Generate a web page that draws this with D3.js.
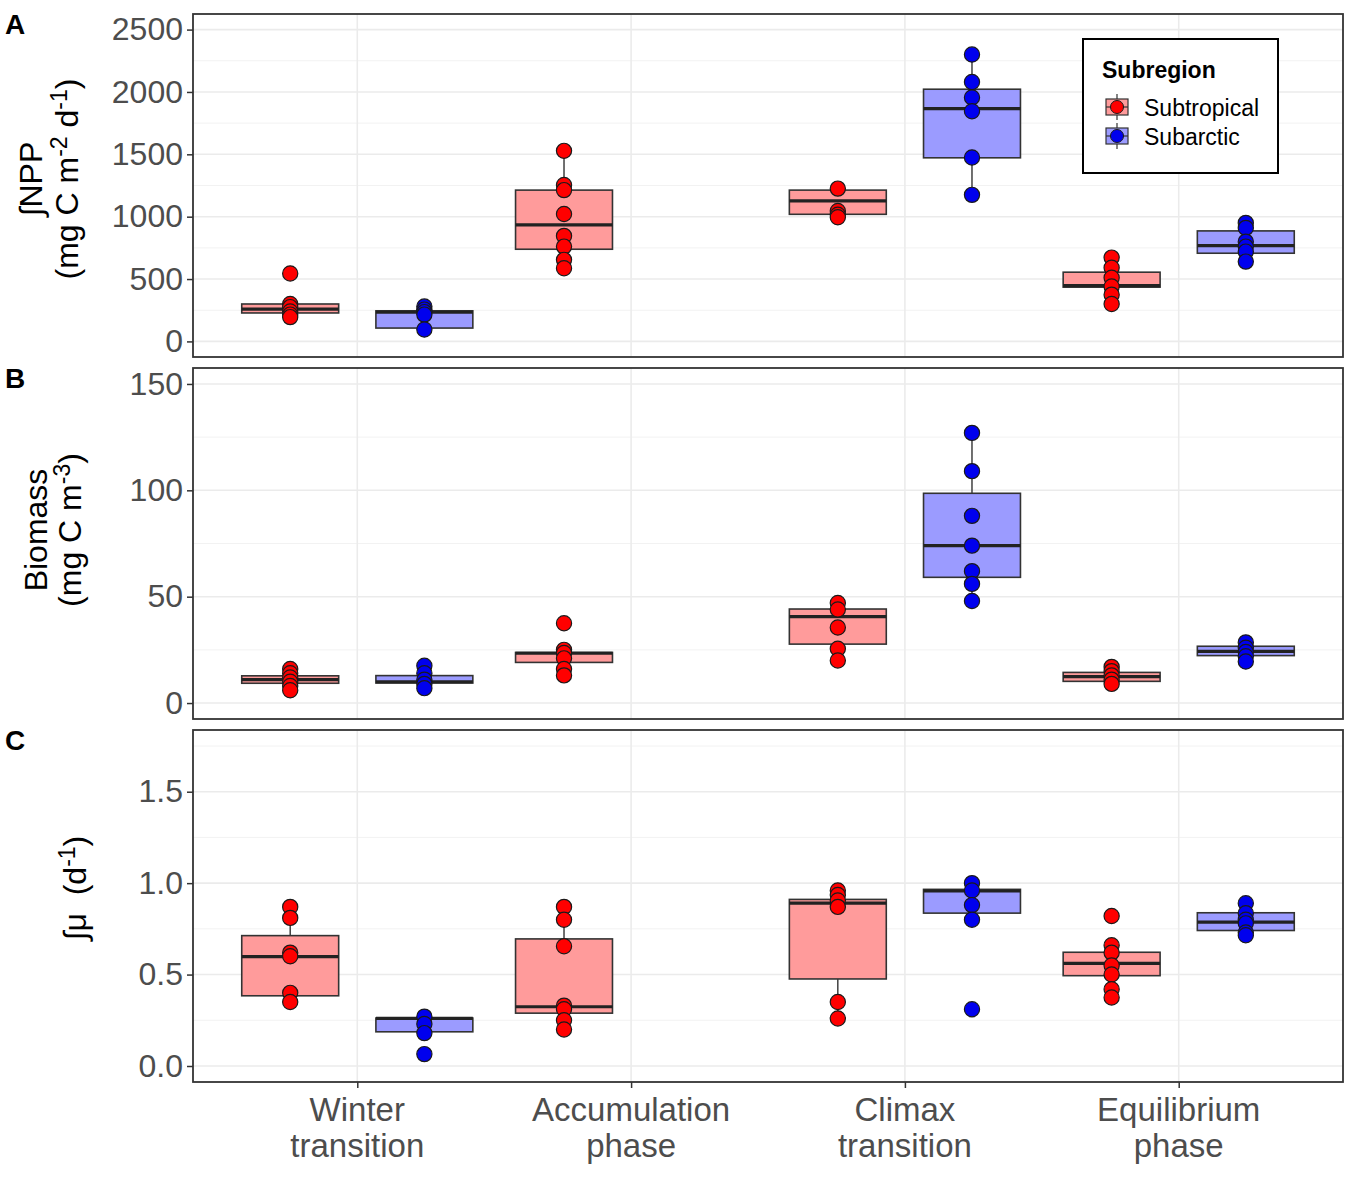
<!DOCTYPE html>
<html>
<head>
<meta charset="utf-8">
<script src="https://cdn.jsdelivr.net/npm/d3@7"></script>
<style>
body { margin: 0; background: #fff; }
text { font-family: Arial, "Liberation Sans", sans-serif; }
</style>
</head>
<body>
<svg id="chart"></svg>
<script>
// categories
const phases = ["Winter transition", "Accumulation phase", "Climax transition", "Equilibrium phase"];
const phaseLines = [["Winter", "transition"], ["Accumulation", "phase"], ["Climax", "transition"], ["Equilibrium", "phase"]];
const subregions = ["Subtropical", "Subarctic"];

// A: integrated NPP, points per phase
const nppSubtropical = [[545, 300, 275, 240, 215, 195], [1528, 1254, 1213, 1022, 846, 760, 654, 587], [1225, 1045, 1015, 995], [672, 590, 510, 440, 375, 300]];
const nppSubarctic = [[280, 255, 235, 215, 95], [], [2300, 2080, 1955, 1845, 1475, 1175], [950, 910, 800, 760, 720, 640]];
// box stats: [lower whisker, q1, median, q3, upper whisker]
const nppBoxSubtropical = [[195, 228, 259, 300, 300], [587, 739, 934, 1213, 1528], [995, 1019, 1126, 1213, 1225], [300, 435, 448, 555, 672]];
const nppBoxSubarctic = [[95, 107, 235, 245, 280], null, [1175, 1472, 1867, 2022, 2300], [640, 707, 768, 886, 950]];

// B: biomass
const bioSubtropical = [[16, 14, 12, 10, 8, 6], [37.5, 25, 23.5, 21, 16, 13], [47, 44, 35.5, 25.5, 20], [17, 15, 13, 11, 9]];
const bioSubarctic = [[17.5, 14, 11, 9, 7], [], [127, 109, 88, 74, 62, 56, 48], [28.5, 26, 24, 22, 19.5]];
const bioBoxSubtropical = [[6, 9.3, 11, 12.8, 16], [13, 19.1, 23.4, 23.8, 25], [20, 27.7, 40.6, 44.2, 47], [9, 10.2, 12.4, 14.4, 17]];
const bioBoxSubarctic = [[7, 9.4, 10, 12.9, 17.5], null, [48, 59.1, 74, 98.6, 127], [19.5, 22.3, 24.3, 26.7, 28.5]];

// C: integrated growth rate
const muSubtropical = [[0.87, 0.81, 0.62, 0.6, 0.4, 0.35], [0.87, 0.8, 0.655, 0.33, 0.31, 0.25, 0.2], [0.96, 0.935, 0.905, 0.87, 0.35, 0.26], [0.82, 0.66, 0.62, 0.55, 0.5, 0.42, 0.375]];
const muSubarctic = [[0.27, 0.23, 0.18, 0.065], [], [1.0, 0.96, 0.88, 0.8, 0.31], [0.89, 0.835, 0.8, 0.78, 0.73, 0.715]];
const muBoxSubtropical = [[0.35, 0.384, 0.598, 0.713, 0.87], [0.2, 0.289, 0.324, 0.695, 0.87], [0.26, 0.476, 0.891, 0.911, 0.96], [0.375, 0.494, 0.561, 0.622, 0.66]];
const muBoxSubarctic = [[0.18, 0.187, 0.26, 0.262, 0.27], null, [0.8, 0.836, 0.957, 0.966, 1.0], [0.715, 0.741, 0.787, 0.838, 0.89]];

// axis ticks
const nppTicks = [0, 500, 1000, 1500, 2000, 2500];
const nppMinor = [250, 750, 1250, 1750, 2250];
const bioTicks = [0, 50, 100, 150];
const bioMinor = [25, 75, 125];
const muTicks = [0, 0.5, 1.0, 1.5];
const muMinor = [0.25, 0.75, 1.25, 1.75];

const width = 1350, height = 1185;
const left = 193, right = 1343;
const pointFill = {Subtropical: "#ff0000", Subarctic: "#0000ee"};
const boxFill = {Subtropical: "#ff9b9b", Subarctic: "#9b9bff"};

let svg = d3.select("#chart").attr("width", width).attr("height", height);

let x = d3.scalePoint().domain(phases).range([left, right]).padding(0.6);
const step = x.step();
const dodge = 0.245 * step;
const halfBox = 0.177 * step;

function xOf(phase, region) {
    return x(phase) + (region === "Subtropical" ? -dodge : dodge);
}

const panels = [
    {letter: "A", top: 14, bottom: 357, lim: [0, 2500], ticks: nppTicks, minor: nppMinor, fmt: d3.format("d"),
     pts: [nppSubtropical, nppSubarctic], boxes: [nppBoxSubtropical, nppBoxSubarctic], title: "npp"},
    {letter: "B", top: 368, bottom: 719, lim: [0, 150], ticks: bioTicks, minor: bioMinor, fmt: d3.format("d"),
     pts: [bioSubtropical, bioSubarctic], boxes: [bioBoxSubtropical, bioBoxSubarctic], title: "bio"},
    {letter: "C", top: 730, bottom: 1082, lim: [0, 1.75], ticks: muTicks, minor: muMinor, fmt: d3.format(".1f"),
     pts: [muSubtropical, muSubarctic], boxes: [muBoxSubtropical, muBoxSubarctic], title: "mu"}
];

function superText(g, parts, attrs) {
    // parts: [text, isSuper]
    let t = g.append("text");
    for (let k in attrs) t.attr(k, attrs[k]);
    parts.forEach(([s, sup], i) => {
        let prevSup = i > 0 && parts[i - 1][1];
        let ts = t.append("tspan").text(s);
        if (sup) ts.attr("dy", -11).attr("font-size", "0.72em");
        else if (prevSup) ts.attr("dy", 11);
    });
    return t;
}

function drawTitle(p, cy) {
    let g = svg.append("g");
    const common = {"text-anchor": "middle", "font-size": 32, fill: "#000"};
    if (p.title === "npp") {
        superText(g, [["\u222BNPP", false]], Object.assign({transform: `translate(42,${cy}) rotate(-90)`}, common));
        superText(g, [["(mg C m", false], ["-2", true], [" d", false], ["-1", true], [")", false]],
            Object.assign({transform: `translate(78,${cy}) rotate(-90)`}, common));
    } else if (p.title === "bio") {
        superText(g, [["Biomass", false]], Object.assign({transform: `translate(47,${cy}) rotate(-90)`}, common));
        superText(g, [["(mg C m", false], ["-3", true], [")", false]],
            Object.assign({transform: `translate(81,${cy}) rotate(-90)`}, common));
    } else {
        superText(g, [["\u222B\u03BC\u00A0\u00A0(d", false], ["-1", true], [")", false]],
            Object.assign({transform: `translate(86,${cy}) rotate(-90)`}, common));
    }
}

const titleCenters = [179, 530, 888];

panels.forEach((p, pi) => {
    const span = p.lim[1] - p.lim[0];
    let y = d3.scaleLinear().domain([p.lim[0] - 0.05 * span, p.lim[1] + 0.05 * span]).range([p.bottom, p.top]);
    let g = svg.append("g");

    // grid
    g.selectAll(".minor").data(p.minor).enter().append("line")
        .attr("x1", left).attr("x2", right).attr("y1", d => y(d)).attr("y2", d => y(d))
        .attr("stroke", "#f2f2f2").attr("stroke-width", 1);
    g.selectAll(".major").data(p.ticks).enter().append("line")
        .attr("x1", left).attr("x2", right).attr("y1", d => y(d)).attr("y2", d => y(d))
        .attr("stroke", "#ebebeb").attr("stroke-width", 1.6);
    g.selectAll(".vgrid").data(phases).enter().append("line")
        .attr("x1", d => x(d)).attr("x2", d => x(d)).attr("y1", p.top).attr("y2", p.bottom)
        .attr("stroke", "#ebebeb").attr("stroke-width", 1.6);

    // boxes
    subregions.forEach((region, ri) => {
        phases.forEach((phase, i) => {
            const b = p.boxes[ri][i];
            if (!b) return;
            const cx = xOf(phase, region);
            g.append("line").attr("x1", cx).attr("x2", cx).attr("y1", y(b[0])).attr("y2", y(b[1]))
                .attr("stroke", "#333").attr("stroke-width", 1.4);
            g.append("line").attr("x1", cx).attr("x2", cx).attr("y1", y(b[3])).attr("y2", y(b[4]))
                .attr("stroke", "#333").attr("stroke-width", 1.4);
            g.append("rect").attr("x", cx - halfBox).attr("width", 2 * halfBox)
                .attr("y", y(b[3])).attr("height", y(b[1]) - y(b[3]))
                .attr("fill", boxFill[region]).attr("stroke", "#333").attr("stroke-width", 1.6);
            g.append("line").attr("x1", cx - halfBox).attr("x2", cx + halfBox).attr("y1", y(b[2])).attr("y2", y(b[2]))
                .attr("stroke", "#222").attr("stroke-width", 3.2);
        });
    });

    // points
    subregions.forEach((region, ri) => {
        phases.forEach((phase, i) => {
            g.selectAll(null).data(p.pts[ri][i]).enter().append("circle")
                .attr("cx", xOf(phase, region)).attr("cy", d => y(d)).attr("r", 7.6)
                .attr("fill", pointFill[region]).attr("stroke", "#1a1a1a").attr("stroke-width", 1.2);
        });
    });

    // frame
    g.append("rect").attr("x", left).attr("y", p.top).attr("width", right - left).attr("height", p.bottom - p.top)
        .attr("fill", "none").attr("stroke", "#333").attr("stroke-width", 1.8);

    // y axis
    let axisY = d3.axisLeft(y).tickValues(p.ticks).tickFormat(p.fmt).tickSize(6).tickPadding(4);
    let ay = svg.append("g").attr("transform", `translate(${left},0)`).call(axisY);
    ay.select(".domain").remove();
    ay.selectAll("line").attr("stroke", "#333").attr("stroke-width", 1.5);
    ay.selectAll("text").attr("font-size", 32).attr("fill", "#4d4d4d").attr("font-family", "Arial, 'Liberation Sans', sans-serif");

    drawTitle(p, titleCenters[pi]);

    svg.append("text").attr("x", 5).attr("y", p.top + 20).attr("font-size", 28).attr("font-weight", "bold")
        .attr("fill", "#000").text(p.letter);

    if (pi === panels.length - 1) {
        let axisX = d3.axisBottom(x).tickSize(6).tickFormat("");
        let ax = svg.append("g").attr("transform", `translate(0,${p.bottom})`).call(axisX);
        ax.select(".domain").remove();
        ax.selectAll("line").attr("stroke", "#333").attr("stroke-width", 1.5);
        phases.forEach((phase, i) => {
            let t = svg.append("text").attr("text-anchor", "middle").attr("font-size", 33).attr("fill", "#4d4d4d");
            t.append("tspan").attr("x", x(phase)).attr("y", 1121).text(phaseLines[i][0]);
            t.append("tspan").attr("x", x(phase)).attr("y", 1157).text(phaseLines[i][1]);
        });
    }
});

// legend
let lg = svg.append("g");
lg.append("rect").attr("x", 1083).attr("y", 39).attr("width", 195).attr("height", 134)
    .attr("fill", "#fff").attr("stroke", "#000").attr("stroke-width", 2);
lg.append("text").attr("x", 1102).attr("y", 78).attr("font-size", 23).attr("font-weight", "bold").text("Subregion");
subregions.forEach((region, i) => {
    const cy = 107 + i * 29;
    lg.append("line").attr("x1", 1117).attr("x2", 1117).attr("y1", cy - 13).attr("y2", cy + 13)
        .attr("stroke", "#333").attr("stroke-width", 1.2);
    lg.append("rect").attr("x", 1106).attr("y", cy - 8).attr("width", 22).attr("height", 16)
        .attr("fill", boxFill[region]).attr("stroke", "#333").attr("stroke-width", 1.2);
    lg.append("line").attr("x1", 1106).attr("x2", 1128).attr("y1", cy).attr("y2", cy)
        .attr("stroke", "#333").attr("stroke-width", 1.2);
    lg.append("circle").attr("cx", 1117).attr("cy", cy).attr("r", 6.5)
        .attr("fill", pointFill[region]).attr("stroke", "#1a1a1a").attr("stroke-width", 1);
    lg.append("text").attr("x", 1144).attr("y", cy + 9).attr("font-size", 23).text(region);
});
</script>
</body>
</html>
